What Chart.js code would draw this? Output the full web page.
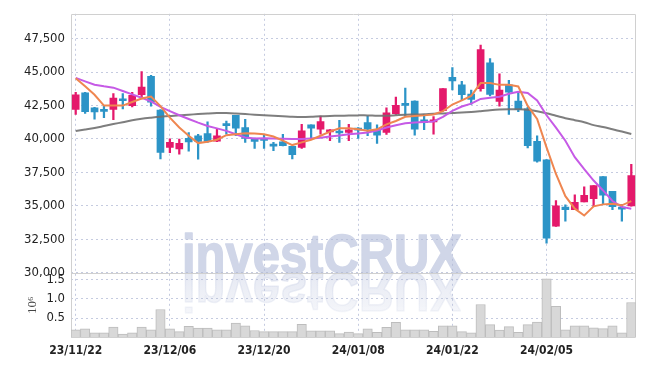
<!DOCTYPE html>
<html>
<head>
<meta charset="utf-8">
<script src="https://cdn.jsdelivr.net/npm/chart.js@4.4.1/dist/chart.umd.min.js"></script>
<style>
  html, body { margin: 0; padding: 0; background: #fff; }
  #wrap { width: 645px; height: 366px; }
</style>
</head>
<body>
<div id="wrap"><canvas id="chart" width="645" height="366"></canvas></div>
<script>
// trading days (yy/mm/dd)
const dates = ['23/11/22','23/11/23','23/11/24','23/11/27','23/11/28','23/11/29','23/11/30',
  '23/12/01','23/12/04','23/12/05','23/12/06','23/12/07','23/12/08','23/12/11','23/12/12','23/12/13',
  '23/12/14','23/12/15','23/12/18','23/12/19','23/12/20','23/12/21','23/12/22','23/12/26','23/12/27','23/12/28',
  '24/01/02','24/01/03','24/01/04','24/01/05','24/01/08','24/01/09','24/01/10','24/01/11','24/01/12',
  '24/01/15','24/01/16','24/01/17','24/01/18','24/01/19','24/01/22','24/01/23','24/01/24','24/01/25',
  '24/01/26','24/01/29','24/01/30','24/01/31','24/02/01','24/02/02','24/02/05','24/02/06','24/02/07',
  '24/02/08','24/02/13','24/02/14','24/02/15','24/02/16','24/02/19','24/02/20'];

const opens = [42200,43450,42320,42100,42200,43000,42490,43300,44680,42150,
  39370,39250,40040,40240,40400,39840,41110,41760,40850,39870,
  39960,39520,39790,39450,39370,41050,40720,40530,40520,40480,
  40740,41220,40680,40480,41880,42570,42820,41420,41270,42120,
  44610,44040,43360,43760,45690,42800,44040,42820,42250,39820,
  38430,33480,34900,34710,35300,35530,37190,36080,34900,34990];
const highs = [43480,43480,42360,42470,43380,43380,43480,45030,44760,42200,
  40000,39990,40480,40340,41270,40720,41340,41760,41460,40060,
  40350,39750,40350,39450,41090,41050,41710,40700,41390,41090,
  40850,41710,41050,42320,43130,43800,42840,41830,41670,43760,
  45330,44310,43650,47010,46010,44870,44370,43560,42360,40240,
  38450,35400,35070,35820,36430,36510,37190,36080,35120,38110];
const lows = [41830,41900,41480,41590,41440,42250,42400,42990,42450,38510,
  38970,38860,39080,38490,39740,39790,40350,40240,39740,39300,
  39300,39120,39480,38510,39300,39990,40350,39870,39740,39870,
  40040,40240,39670,40330,41830,41730,40280,40700,40350,42100,
  43670,42910,42570,43560,43210,42450,41830,42030,39320,38270,
  32210,33460,33850,34710,35300,34930,35130,34710,33860,34970];
const closes = [43300,42030,42010,42060,43060,42850,43260,43870,42750,39000,
  39740,39670,39780,39820,39820,40240,41000,40800,40040,39820,
  39890,39460,39500,38820,40610,40800,41290,40680,40440,40680,
  40660,40720,40280,41950,42520,42510,40720,41220,41420,43760,
  44340,43300,42950,46670,43330,43650,43490,42200,39500,38340,
  32580,35010,34710,35260,35790,36510,35790,34930,34760,37260];

// moving averages
const maShort = [44540,43930,43300,42490,42490,42490,42760,43020,43170,42450,
  41590,40850,40240,39690,39790,39940,40280,40350,40430,40410,
  40350,40180,39870,39540,39740,39940,40240,40550,40800,40800,
  40720,40610,40720,41090,41340,41660,41710,41760,41830,42080,
  42570,42880,43220,44170,44170,44040,44040,43920,42470,41500,
  39370,37380,35720,34790,34280,34960,35110,35160,35040,35350];
const maMid = [44560,44300,44050,43930,43830,43580,43330,43080,42810,42390,
  42080,41770,41490,41220,40970,40790,40600,40350,40110,40040,
  40060,40040,40010,39990,39990,40040,40090,40180,40260,40350,
  40410,40480,40630,40850,41020,41170,41220,41270,41310,41650,
  42100,42420,42640,42990,43080,43150,43370,43530,43430,42880,
  41770,40850,39870,38640,37740,36890,36150,35360,34920,34790];
const maLong = [40600,40700,40810,40960,41110,41250,41400,41510,41590,41660,
  41710,41770,41810,41860,41900,41930,41930,41900,41860,41810,
  41770,41730,41700,41660,41640,41660,41700,41720,41730,41750,
  41760,41760,41730,41730,41770,41810,41820,41840,41880,41900,
  41930,41980,42010,42070,42140,42190,42210,42210,42180,42070,
  41920,41730,41550,41400,41250,41030,40890,40720,40550,40370];

const volumes = [200000,220000,120000,120000,270000,90000,120000,270000,200000,720000,
  220000,150000,290000,240000,240000,200000,200000,370000,300000,180000,
  150000,150000,150000,150000,340000,170000,170000,170000,100000,140000,
  100000,220000,130000,260000,390000,200000,200000,200000,160000,300000,
  300000,150000,120000,850000,330000,190000,280000,130000,330000,400000,
  1510000,800000,200000,300000,300000,250000,230000,300000,120000,900000];

const priceTicks = [30000, 32500, 35000, 37500, 40000, 42500, 45000, 47500];
const priceRange = [30000, 49350];
const volumeTicks = [0, 500000, 1000000, 1500000];
const volumeRange = [0, 1666000];

const UP = '#e4196b';
const DOWN = '#2c94c7';
const GRID = 'rgba(178,186,214,0.75)';
const AXIS = '#d0d0d0';
const TICK_FONT = '"DejaVu Sans Condensed", "Liberation Sans", sans-serif';
const candleColors = closes.map((c, i) => (c >= opens[i] ? UP : DOWN));

// watermark drawn under everything
const watermark = {
    id: 'watermark',
    beforeDraw(chart) {
        const ctx = chart.ctx;
        const text = 'investCRUX';
        const base = chart.scales.y.bottom;
        ctx.save();
        ctx.font = 'bold 56px "Liberation Sans"';
        const sx = 280 / ctx.measureText(text).width;
        ctx.translate(182, base);
        ctx.scale(sx, 1);
        ctx.textBaseline = 'alphabetic';
        ctx.lineJoin = 'round';
        ctx.fillStyle = ctx.strokeStyle = 'rgb(208,214,232)';
        ctx.lineWidth = 1.5;
        ctx.fillText(text, 0, 0);
        ctx.strokeText(text, 0, 0);
        // reflection
        ctx.scale(1, -1);
        const g = ctx.createLinearGradient(0, 0, 0, -42);
        g.addColorStop(0, 'rgba(208,214,232,0.55)');
        g.addColorStop(1, 'rgba(208,214,232,0.2)');
        ctx.fillStyle = ctx.strokeStyle = g;
        ctx.fillText(text, 0, 0);
        ctx.strokeText(text, 0, 0);
        ctx.restore();
    }
};

// solid frame, left axis line and pane separator
const frame = {
    id: 'frame',
    beforeDatasetsDraw(chart) {
        const { ctx, chartArea: a } = chart;
        const sep = Math.round(chart.scales.y.bottom) + 0.5;
        const l = Math.round(a.left) + 0.5;
        const r = Math.round(a.right) - 0.5;
        const t = Math.round(a.top) + 0.5;
        const b = Math.round(a.bottom) - 0.5;
        ctx.save();
        ctx.strokeStyle = AXIS;
        ctx.lineWidth = 1;
        ctx.setLineDash([]);
        ctx.beginPath();
        ctx.moveTo(l, t); ctx.lineTo(r, t); ctx.lineTo(r, b); ctx.lineTo(l, b); ctx.closePath();
        ctx.moveTo(l, sep); ctx.lineTo(r, sep);
        ctx.stroke();
        ctx.restore();
    }
};

const setTicks = values => scale => { scale.ticks = values.map(value => ({ value })); };

new Chart(document.getElementById('chart'), {
    type: 'bar',
    data: {
        labels: dates,
        datasets: [
            {
                type: 'line', data: maShort, yAxisID: 'y', order: 1,
                borderColor: '#ef8650', borderWidth: 2, pointRadius: 0, tension: 0
            },
            {
                type: 'line', data: maMid, yAxisID: 'y', order: 2,
                borderColor: '#c65ae6', borderWidth: 2, pointRadius: 0, tension: 0
            },
            {
                type: 'line', data: maLong, yAxisID: 'y', order: 3,
                borderColor: 'rgba(112,112,112,0.9)', borderWidth: 2, pointRadius: 0, tension: 0.3
            },
            {
                // candle bodies
                data: opens.map((o, i) => [o, closes[i]]), yAxisID: 'y', order: 4,
                backgroundColor: candleColors, barThickness: 7, minBarLength: 2, grouped: false
            },
            {
                // wicks
                data: lows.map((l, i) => [l, highs[i]]), yAxisID: 'y', order: 5,
                backgroundColor: candleColors, barThickness: 1.6, grouped: false
            },
            {
                data: volumes, yAxisID: 'v', order: 6, grouped: false,
                backgroundColor: '#d8d8d8', borderColor: '#bdbdbd', borderWidth: 1,
                categoryPercentage: 1, barPercentage: 1
            }
        ]
    },
    options: {
        responsive: false,
        animation: false,
        layout: { padding: { left: 0, right: 9, top: 9, bottom: 0 } },
        plugins: { legend: { display: false }, tooltip: { enabled: false } },
        scales: {
            x: {
                offset: true,
                grid: {
                    offset: false,
                    drawTicks: false,
                    color: ctx => (ctx.index % 10 === 0 ? GRID : 'transparent')
                },
                border: { display: false, dash: [2, 3] },
                ticks: {
                    autoSkip: false, maxRotation: 0, padding: 6,
                    color: '#222',
                    font: { family: TICK_FONT, size: 12, weight: 'bold' },
                    callback: (v, i) => (i % 10 === 0 ? dates[i] : '')
                },
                afterFit: s => { s.height = 28.5; }
            },
            v: {
                type: 'linear', position: 'left', stack: 'panes', stackWeight: 1,
                min: volumeRange[0], max: volumeRange[1],
                afterBuildTicks: setTicks(volumeTicks),
                grid: { drawTicks: false, color: GRID },
                border: { display: false, dash: [2, 3] },
                ticks: {
                    autoSkip: false, padding: 6, color: '#222',
                    font: { family: TICK_FONT, size: 13 },
                    callback: v => (v === 0 ? '' : (v / 1e6).toFixed(1))
                },
                title: {
                    display: true, text: '10\u2076', color: '#444',
                    font: { family: '"Liberation Serif"', size: 13 },
                    padding: { top: 25, bottom: 0 }
                },
                afterFit: s => { s.width = 71; }
            },
            y: {
                type: 'linear', position: 'left', stack: 'panes', stackWeight: 4,
                min: priceRange[0], max: priceRange[1],
                afterBuildTicks: setTicks(priceTicks),
                grid: { drawTicks: false, color: GRID },
                border: { display: false, dash: [2, 3] },
                ticks: {
                    autoSkip: false, padding: 6, color: '#222',
                    font: { family: TICK_FONT, size: 13 },
                    callback: v => v.toLocaleString('en-US')
                },
                afterFit: s => { s.width = 71; }
            }
        }
    },
    plugins: [watermark, frame]
});
</script>
</body>
</html>
